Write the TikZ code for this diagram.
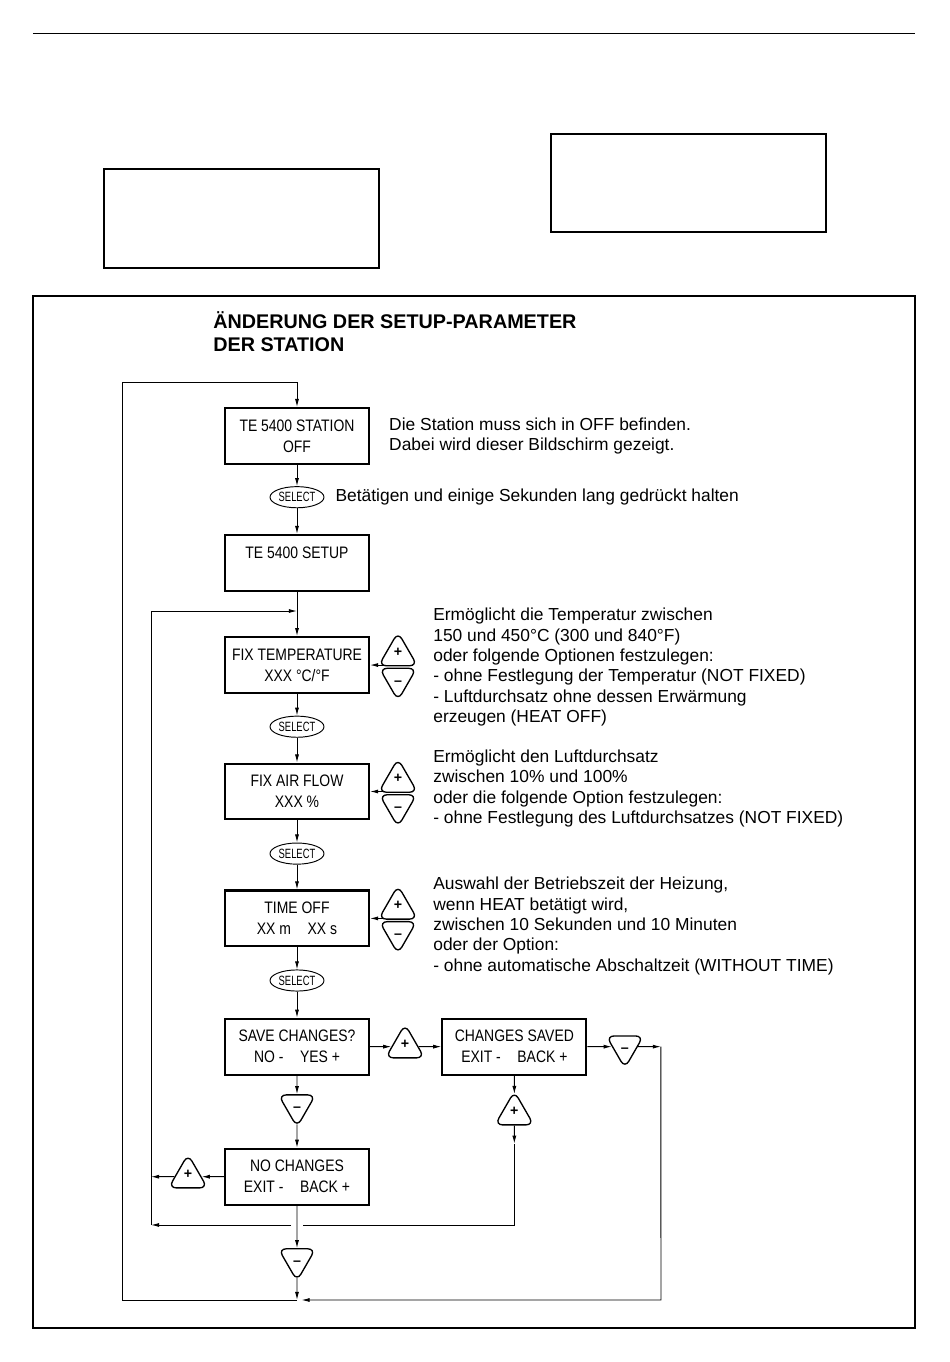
\documentclass[tikz,border=0pt]{standalone}
\usepackage{fontspec}
\setmainfont{Liberation Sans}
\newfontfamily\narrowfont{Liberation Sans}[FakeStretch=0.84]
\newfontfamily\selfont{Liberation Sans}[FakeStretch=0.7]
\usetikzlibrary{positioning, shapes.geometric, arrows.meta}
\tikzset{
    on grid,
    >={Latex[length=1.8mm,width=0.9mm]},
    link/.style={line width=0.6pt},
    screen/.style={draw, line width=1.3pt, minimum width=3.2cm, minimum height=1.24cm,
        inner sep=0pt, align=center, font=\narrowfont\fontsize{10.5}{13.3}\selectfont},
    selbtn/.style={draw, ellipse, line width=0.6pt, minimum width=1.2cm, minimum height=0.47cm,
        inner sep=0pt, font=\selfont\fontsize{8.5}{9}\selectfont},
    button/.style={draw, regular polygon, regular polygon sides=3, minimum size=0.95cm,
        inner sep=0pt, rounded corners=0.17cm, line width=0.85pt,
        font=\bfseries\fontsize{9}{9}\selectfont},
    plusbtn/.style={button, text height=6pt, text depth=4pt},
    minusbtn/.style={button, shape border rotate=180, text height=8pt, text depth=0pt},
    info/.style={anchor=west, align=left, inner sep=0pt, font=\fontsize{11}{12.85}\selectfont},
}

\begin{document}
\begin{tikzpicture}
    \useasboundingbox (0,0) rectangle (21.111,-30.267);

    % page furniture
    \draw[line width=0.6pt] (0.733,-0.733) -- (20.333,-0.733);
    \draw[line width=1.1pt] (2.311,-3.756) rectangle (8.422,-5.956);
    \draw[line width=1.1pt] (12.244,-2.978) rectangle (18.356,-5.156);
    \draw[line width=0.7pt] (0.733,-6.578) rectangle (20.333,-29.511);

    \node[anchor=west, align=left, inner sep=0pt, font=\bfseries\fontsize{12.5}{14.5}\selectfont]
        (title) at (4.733,-7.367) {ÄNDERUNG DER SETUP-PARAMETER\\DER STATION};

    % main column
    \node[screen] (q1) at (6.6,-9.689) {TE 5400 STATION\\OFF};
    \node[selbtn, below=1.36cm of q1] (s1) {SELECT};
    \node[screen, below=1.46cm of s1] (q2) {TE 5400 SETUP\\~};
    \node[screen, below=2.27cm of q2] (q3) {FIX TEMPERATURE\\XXX °C/°F};
    \node[selbtn, below=1.37cm of q3] (s2) {SELECT};
    \node[screen, below=1.44cm of s2] (q4) {FIX AIR FLOW\\XXX \%};
    \node[selbtn, below=1.38cm of q4] (s3) {SELECT};
    \node[screen, below=1.44cm of s3] (q5) {TIME OFF\\XX m\quad XX s};
    \node[selbtn, below=1.38cm of q5] (s4) {SELECT};
    \node[screen, below=1.47cm of s4] (q6) {SAVE CHANGES?\\NO -\quad YES +};
    \node[minusbtn, below=1.31cm of q6] (m6) {--};
    \node[screen, below=1.58cm of m6] (q8) {NO CHANGES\\EXIT -\quad BACK +};
    \node[minusbtn, below=1.84cm of q8] (m8) {--};

    % keys beside the screens
    \node[plusbtn, above right=0.233cm and 2.244cm of q3] (p3) {+};
    \node[minusbtn, below right=0.31cm and 2.244cm of q3] (n3) {--};
    \node[plusbtn, above right=0.233cm and 2.244cm of q4] (p4) {+};
    \node[minusbtn, below right=0.31cm and 2.244cm of q4] (n4) {--};
    \node[plusbtn, above right=0.233cm and 2.244cm of q5] (p5) {+};
    \node[minusbtn, below right=0.31cm and 2.244cm of q5] (n5) {--};

    \node[plusbtn, right=2.4cm of q6] (p6) {+};
    \node[screen, right=4.83cm of q6] (q7) {CHANGES SAVED\\EXIT -\quad BACK +};
    \node[minusbtn, right=2.456cm of q7] (m7) {--};
    \node[plusbtn, below=1.49cm of q7] (p7) {+};
    \node[plusbtn, left=2.422cm of q8] (p8) {+};

    % notes
    \node[info] (d1) at ([xshift=0.42cm]q1.east)
        {Die Station muss sich in OFF befinden.\\Dabei wird dieser Bildschirm gezeigt.};
    \node[info] (d2) at ([xshift=0.24cm]s1.east)
        {Betätigen und einige Sekunden lang gedrückt halten};
    \node[info] (d3) at ([xshift=1.4cm,yshift=-0.044cm]q3.east)
        {Ermöglicht die Temperatur zwischen\\
         150 und 450°C (300 und 840°F)\\
         oder folgende Optionen festzulegen:\\
         - ohne Festlegung der Temperatur (NOT FIXED)\\
         - Luftdurchsatz ohne dessen Erwärmung\\
         erzeugen (HEAT OFF)};
    \node[info] (d4) at ([xshift=1.4cm,yshift=0.067cm]q4.east)
        {Ermöglicht den Luftdurchsatz\\
         zwischen 10\% und 100\%\\
         oder die folgende Option festzulegen:\\
         - ohne Festlegung des Luftdurchsatzes (NOT FIXED)};
    \node[info] (d5) at ([xshift=1.4cm,yshift=-0.17cm]q5.east)
        {Auswahl der Betriebszeit der Heizung,\\
         wenn HEAT betätigt wird,\\
         zwischen 10 Sekunden und 10 Minuten\\
         oder der Option:\\
         - ohne automatische Abschaltzeit (WITHOUT TIME)};

    % loop corners
    \coordinate (tl) at (2.711,-8.489);
    \coordinate (bl) at (2.711,-28.889);
    \coordinate (br) at (14.689,-28.889);
    \coordinate (il) at (3.356,-13.578);
    \coordinate (ib) at (3.356,-27.222);
    \coordinate (er) at ([xshift=3.256cm]q7.center);
    \coordinate (bm) at (m8 |- br);
    \coordinate (bj) at ([xshift=0.1cm]bm);
    \coordinate (pd) at ([yshift=-0.667cm]p7.center);
    \coordinate (gm) at (q8 |- ib);
    \coordinate (gr) at ([xshift=0.133cm]gm);
    \coordinate (gl) at ([xshift=-0.133cm]gm);
    \coordinate (a3) at ([xshift=0.31cm]q3.east);
    \coordinate (a4) at ([xshift=0.31cm]q4.east);
    \coordinate (a5) at ([xshift=0.31cm]q5.east);

    % connectors
    \draw[link, ->] (bl) -- (tl) -- (q1 |- tl) -- (q1);
    \draw[link, ->] (q1) -- (s1);
    \draw[link, ->] (s1) -- (q2);
    \draw[link, ->] (q2) -- (q3);
    \draw[link, ->] (ib) -- (il) -- (q3 |- il);
    \draw[link, ->] (q3) -- (s2);
    \draw[link, ->] (s2) -- (q4);
    \draw[link, ->] (q4) -- (s3);
    \draw[link, ->] (s3) -- (q5);
    \draw[link, ->] (q5) -- (s4);
    \draw[link, ->] (s4) -- (q6);
    \draw[link, ->] (a3) -- (q3);
    \draw[link, ->] (a4) -- (q4);
    \draw[link, ->] (a5) -- (q5);

    \draw[link, ->] (q6) -- (p6);
    \draw[link, ->] (p6) -- (q7);
    \draw[link, ->] (q7) -- (m7);
    \draw[link, ->] (m7) -- (er);
    \draw[link, ->] (er) -- (br) -- (bj);
    \draw[link] (bm) -- (bl);

    \draw[link, ->] (q6) -- (m6);
    \draw[link, ->, shorten <=-0.09cm] (m6) -- (q8);
    \draw[link, ->, shorten >=-0.09cm] (q7) -- (p7);
    \draw[link, ->] (p7) -- (pd);
    \draw[link] (pd) -- (p7 |- ib) -- (gr);
    \draw[link, ->] (gl) -- (ib);
    \draw[link, ->] (q8) -- (p8);
    \draw[link, ->] (p8) -- (q8 -| il);
    \draw[link, ->] (q8) -- (m8);
    \draw[link, ->, shorten <=-0.09cm] (m8) -- (bm);
\end{tikzpicture}
\end{document}
